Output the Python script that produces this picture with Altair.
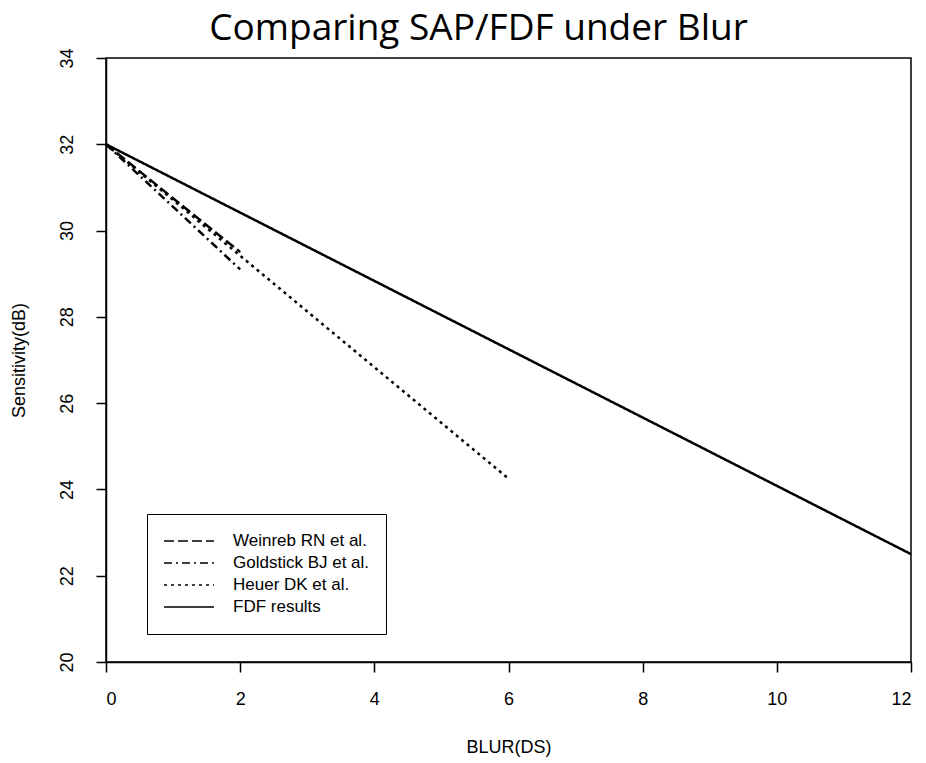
import altair as alt
import pandas as pd

series = ["Weinreb RN et al.", "Goldstick BJ et al.", "Heuer DK et al.", "FDF results"]
blur_start = [0, 0, 0, 0]
blur_end = [2, 2, 6, 12]
sens_start = [32, 32, 32, 32]
sens_end = [29.5, 29.1, 24.25, 22.5]
x_ticks = [0, 2, 4, 6, 8, 10, 12]
y_ticks = [20, 22, 24, 26, 28, 30, 32, 34]
dashes = [[10, 4], [8, 4, 2, 4], [3, 4], [1, 0]]

rows = []
for s, x0, x1, y0, y1 in zip(series, blur_start, blur_end, sens_start, sens_end):
    rows.append({"series": s, "blur": x0, "sens": y0, "ord": 0})
    rows.append({"series": s, "blur": x1, "sens": y1, "ord": 1})
df = pd.DataFrame(rows)

font = "Liberation Sans"

chart = alt.Chart(df).mark_line(color="black", strokeWidth=2.5).encode(
    x=alt.X("blur:Q", scale=alt.Scale(domain=[0, 12], nice=False, zero=False),
            axis=alt.Axis(values=x_ticks, title="BLUR(DS)", format="d",
                          labelPadding=18, titlePadding=30)),
    y=alt.Y("sens:Q", scale=alt.Scale(domain=[20, 34], nice=False, zero=False),
            axis=alt.Axis(values=y_ticks, title="Sensitivity(dB)", format="d",
                          labelAngle=270, labelAlign="center", labelBaseline="alphabetic",
                          labelPadding=24, titlePadding=30)),
    strokeDash=alt.StrokeDash("series:N",
                              scale=alt.Scale(domain=series, range=dashes),
                              legend=alt.Legend(title=None, orient="none", legendX=41, legendY=456,
                                                strokeColor="black", padding=16,
                                                symbolType="stroke", symbolSize=2500,
                                                symbolStrokeWidth=1.5, symbolStrokeColor="black",
                                                labelFont=font, labelFontSize=17, labelColor="black",
                                                labelOffset=18, rowPadding=0, clipHeight=22,
                                                labelLimit=400)),
    order="ord:Q",
).properties(
    width=805,
    height=604,
    padding={"left": 106, "top": 58, "right": 15, "bottom": 101},
    autosize=alt.AutoSizeParams(type="none"),
    background="white",
    title=alt.TitleParams("Comparing SAP/FDF under Blur", font="Open Sans", fontSize=37,
                          fontWeight="normal", color="black", anchor="middle", dx=-30, offset=0),
).configure_view(
    stroke="black", strokeWidth=1.5
).configure_axis(
    grid=False, domainColor="black", domainWidth=1.5, tickColor="black", tickWidth=1.5,
    tickSize=10, labelFont=font, labelFontSize=18, labelColor="black",
    titleFont=font, titleFontSize=18, titleFontWeight="normal", titleColor="black"
)

chart.save("out.html", embed_options={"renderer": "svg", "actions": False})
